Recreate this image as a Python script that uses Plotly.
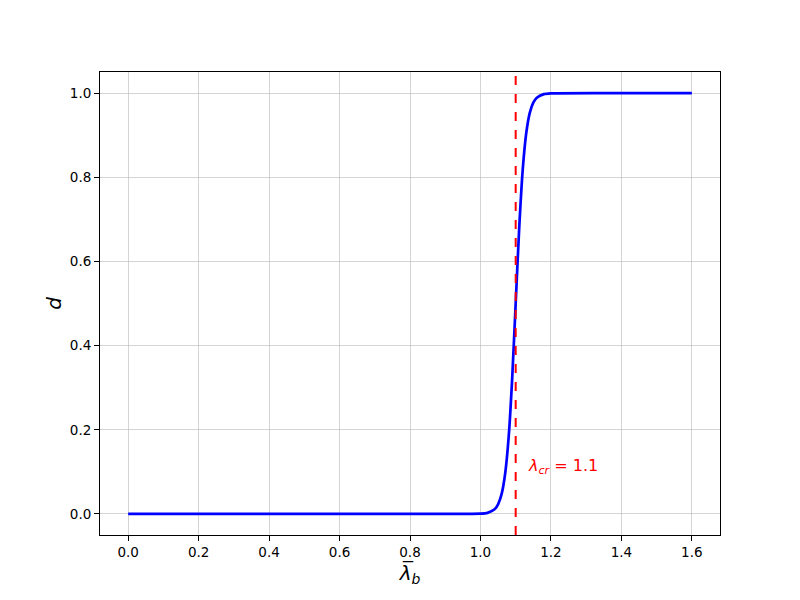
import plotly.graph_objects as go

# values
lam_b = [0.0, 0.2, 0.4, 0.6, 0.8, 1.0, 1.02, 1.04, 1.05, 1.06, 1.07, 1.08, 1.09,
         1.10, 1.11, 1.12, 1.13, 1.14, 1.15, 1.16, 1.18, 1.2, 1.4, 1.6]
d_vals = [0.0, 0.0, 0.0, 0.0, 0.0, 0.0006, 0.0025, 0.011, 0.023, 0.047, 0.095, 0.182, 0.321,
          0.5, 0.679, 0.818, 0.905, 0.953, 0.977, 0.989, 0.9975, 0.9994, 1.0, 1.0]
lam_cr = 1.1
x_ticks = [0.0, 0.2, 0.4, 0.6, 0.8, 1.0, 1.2, 1.4, 1.6]
y_ticks = [0.0, 0.2, 0.4, 0.6, 0.8, 1.0]

fig = go.Figure()
fig.add_trace(go.Scatter(x=lam_b, y=d_vals, mode="lines",
                         line=dict(color="blue", width=2.7, shape="spline", smoothing=0.6),
                         showlegend=False))
fig.add_shape(type="line", x0=lam_cr, x1=lam_cr, y0=0, y1=1, xref="x", yref="paper",
              line=dict(color="red", width=2, dash="dash"))
fig.add_annotation(x=lam_cr + 0.03, y=0.112, xref="x", yref="y",
                   text="<i>λ<sub>cr</sub></i> = 1.1", showarrow=False,
                   xanchor="left", yanchor="middle",
                   font=dict(color="red", size=16, family="DejaVu Sans"))

axis_common = dict(showline=True, linecolor="black", linewidth=1, mirror=True,
                   ticks="outside", ticklen=5, tickcolor="black",
                   showgrid=True, gridcolor="rgba(176,176,176,0.55)", gridwidth=1,
                   zeroline=False, tickfont=dict(size=13.5, family="DejaVu Sans", color="black"))

fig.update_xaxes(range=[-0.08, 1.68], tickvals=x_ticks,
                 ticktext=[f"{v:.1f}" for v in x_ticks],
                 title=dict(text="<i>λ̅<sub>b</sub></i>", font=dict(size=20, family="DejaVu Sans", color="black"),
                            standoff=4),
                 **axis_common)
fig.update_yaxes(range=[-0.05, 1.05], tickvals=y_ticks,
                 ticktext=[f"{v:.1f}" for v in y_ticks],
                 title=dict(text="<i>d</i>", font=dict(size=20, family="DejaVu Sans", color="black"),
                            standoff=2),
                 **axis_common)

fig.update_layout(width=800, height=600, plot_bgcolor="white", paper_bgcolor="white",
                  margin=dict(l=92, r=88, t=64, b=73, pad=0),
                  font=dict(family="DejaVu Sans"))

fig.write_html("out.html")
